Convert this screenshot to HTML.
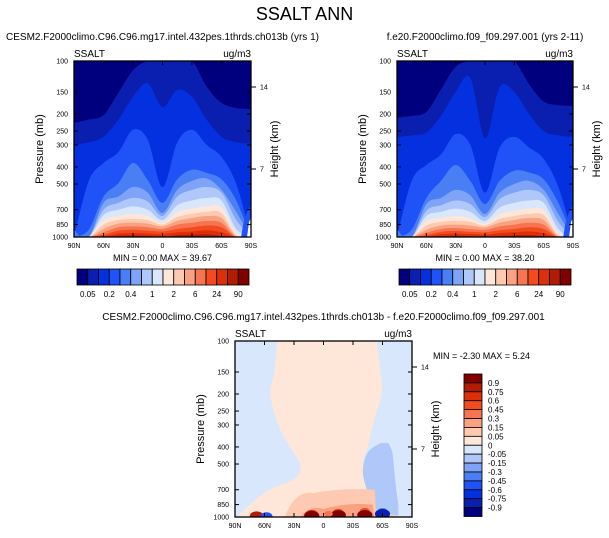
<!DOCTYPE html>
<html><head><meta charset="utf-8"><style>
html,body{margin:0;padding:0;background:#fff;width:609px;height:538px;overflow:hidden}
svg{display:block}
text{font-family:"Liberation Sans",sans-serif;fill:#000}
</style></head><body>
<svg id="fig" width="609" height="538" viewBox="0 0 609 538">
<text x="304.5" y="20" font-size="18" text-anchor="middle">SSALT ANN</text>
</svg>
<script>
// ---- data ----
const lats = [90,75,60,45,30,15,0,-15,-30,-45,-60,-75,-90];
const pTicks = [100,150,200,250,300,400,500,700,850,1000];
const latTicks = [90,60,30,0,-30,-60,-90];
const latLabels = ["90N","60N","30N","0","30S","60S","90S"];
const absLevelLabels = ["0.05","","0.2","","0.4","","1","","2","","6","","24","","90"];
const diffLevelLabels = ["0.9","0.75","0.6","0.45","0.3","0.15","0.05","0","-0.05","-0.15","-0.3","-0.45","-0.6","-0.75","-0.9"];
const heightTicks = [14,7];
const absColors = ["#00007f","#0a1fb0","#0530e0","#1f52f7","#4a7ef5","#7fa3f6","#b0c8f9","#d8e7fc","#fee7d8","#fdc9b0","#f9a282","#f67550","#f34a1f","#dc300a","#b01c04","#800000"];
const diffColors = ["#800000","#b01c04","#dc300a","#f34a1f","#f67550","#f9a282","#fdc9b0","#fee7d8","#d8e7fc","#b0c8f9","#7fa3f6","#4a7ef5","#1f52f7","#0530e0","#0a1fb0","#00007f"];
// contour boundary pressures (mb) per latitude, one array per level (panel 1)
const c1 = [
 [225,215,203,152,113,100,100,100,100,140,173,185,188],
 [300,290,270,216,160,134,183,146,160,216,270,290,295],
 [1000,480,380,330,246,280,520,290,246,300,350,500,1000],
 [1000,910,590,495,380,475,640,470,415,433,470,620,1000],
 [1000,1000,640,590,520,560,730,540,480,465,540,720,1000],
 [1000,1000,700,640,600,630,760,590,540,520,560,800,1000],
 [1000,1000,750,700,670,700,800,660,620,600,620,900,1000],
 [1000,1000,800,760,740,760,830,720,690,670,680,950,1000],
 [1000,1000,850,800,790,800,850,770,740,720,730,970,1000],
 [1000,1000,900,840,830,840,870,810,780,760,780,990,1000],
 [1000,1000,940,880,870,880,900,850,830,810,830,1000,1000],
 [1000,1000,970,920,910,920,930,900,880,860,880,1000,1000],
 [1000,1000,990,955,950,955,965,940,930,915,940,1000,1000],
 [1000,1000,1000,985,980,985,1000,975,970,965,985,1000,1000],
 [1000,1000,1000,1000,1000,1000,1000,1000,1000,995,1000,1000,1000]
];
// panel 2
const c2 = [
 [210,205,195,145,108,100,100,100,100,135,170,178,180],
 [270,265,255,205,150,125,275,140,150,200,250,265,270],
 [1000,480,390,340,260,300,560,310,270,310,360,520,1000],
 [1000,910,600,480,390,480,650,480,420,430,470,640,1000],
 [1000,1000,650,600,540,580,740,560,500,480,540,740,1000],
 [1000,1000,710,660,620,650,770,610,560,540,580,820,1000],
 [1000,1000,760,720,690,720,810,680,640,620,640,900,1000],
 [1000,1000,810,780,760,780,840,740,710,690,700,950,1000],
 [1000,1000,860,820,810,820,860,790,760,740,750,970,1000],
 [1000,1000,910,860,850,860,880,830,800,780,800,990,1000],
 [1000,1000,945,900,890,900,910,870,850,830,850,1000,1000],
 [1000,1000,975,935,925,935,940,915,900,880,900,1000,1000],
 [1000,1000,992,965,958,962,970,950,940,930,950,1000,1000],
 [1000,1000,1000,990,985,990,1000,985,980,975,990,1000,1000],
 [1000,1000,1000,1000,1000,1000,1000,1000,1000,1000,1000,1000,1000]
];
// difference panel: positive (0..0.05) region bounds per pressure
const dPres = [100,150,200,300,400,500,600,700,850,1000];
const dLeftLat = [47,50,54,46,34,24,28,55,75,88];
const dRightLat = [-54,-58,-59,-50,-45,-40,-45,-52,-54,-55];
// negative blob (-0.15..-0.05) near 60S
const nPres = [380,430,550,700,850,980];
const nLeftLat = [-58,-45,-40,-44,-48,-50];
const nRightLat = [-66,-70,-72,-74,-76,-76];
// surface blobs: latitude, pressure, colour index in diffColors
const blobLat = [12,12,-15,-15,-42,-42,-28,68,58,-60,-60,-70,30,-5];
const blobP = [960,985,940,975,930,975,900,985,990,930,962,990,930,960];
const blobLevel = [2,0,3,0,3,0,5,1,12,11,14,6,6,4];

// ---- drawing ----
const NS="http://www.w3.org/2000/svg";
const svg=document.getElementById('fig');
function mk(tag,attrs,parent){const e=document.createElementNS(NS,tag);for(const k in attrs)e.setAttribute(k,attrs[k]);(parent||svg).appendChild(e);return e;}
function txt(x,y,s,size,anchor,parent){const t=mk('text',{x:x,y:y,'font-size':size,'text-anchor':anchor||'start'},parent);t.textContent=s;return t;}
function smooth(pts){let d='M'+pts[0][0]+','+pts[0][1];for(let i=0;i<pts.length-1;i++){const p0=pts[Math.max(0,i-1)],p1=pts[i],p2=pts[i+1],p3=pts[Math.min(pts.length-1,i+2)];d+=' C'+(p1[0]+(p2[0]-p0[0])/6)+','+(p1[1]+(p2[1]-p0[1])/6)+' '+(p2[0]-(p3[0]-p1[0])/6)+','+(p2[1]-(p3[1]-p1[1])/6)+' '+p2[0]+','+p2[1];}return d;}

function axes(x0,y0,w,h,id){
  const xOf=lat=>x0+w*(90-lat)/180;
  const yOf=p=>y0+h*Math.log10(p/100);
  const g=mk('g',{'clip-path':'url(#clip'+id+')'});
  
  
  const cp=mk('clipPath',{id:'clip'+id});mk('rect',{x:x0,y:y0,width:w,height:h},cp);
  return {xOf,yOf,g,x0,y0,w,h};
}
function frame(A,title,minmax,mmx,mmy,anchor){
  const {x0,y0,w,h,xOf,yOf}=A;
  const f=mk('rect',{x:x0,y:y0,width:w,height:h,fill:'none',stroke:'#000','stroke-width':1.3});
  
  
  pTicks.forEach(p=>{const y=yOf(p);mk('line',{x1:x0,x2:x0+4,y1:y,y2:y,stroke:'#000'});mk('line',{x1:x0+w,x2:x0+w-4,y1:y,y2:y,stroke:'#000'});
    const t=txt(x0-6,y+2.5,String(p),7,'end');});
  latTicks.forEach((l,i)=>{const x=xOf(l);mk('line',{x1:x,x2:x,y1:y0+h,y2:y0+h-4,stroke:'#000'});mk('line',{x1:x,x2:x,y1:y0,y2:y0+4,stroke:'#000'});
    const t=txt(x,y0+h+11,latLabels[i],7,'middle');});
  const hy=[y0+26,y0+108];
  heightTicks.forEach((k,i)=>{mk('line',{x1:x0+w,x2:x0+w+5,y1:hy[i],y2:hy[i],stroke:'#000'});const t=txt(x0+w+9,hy[i]+2.5,String(k),7);});
  let t=txt(x0,y0-4,'SSALT',10);
  t=txt(x0+w,y0-4,'ug/m3',10,'end');
  t=mk('text',{x:0,y:0,'font-size':11,'text-anchor':'middle',transform:'translate('+(x0-31)+','+(y0+h/2)+') rotate(-90)'});t.textContent='Pressure (mb)';
  
  t=mk('text',{x:0,y:0,'font-size':11,'text-anchor':'middle',transform:'translate('+(x0+w+27)+','+(y0+h/2)+') rotate(-90)'});t.textContent='Height (km)';
  
  t=txt(x0+w/2,y0-21,title,10,'middle');
  t=txt(mmx,mmy,minmax,9,anchor);
}
function absPanel(x0,y0,w,h,id,C,title,mm,cbx){
  const A=axes(x0,y0,w,h,id);
  mk('rect',{x:x0,y:y0,width:w,height:h,fill:absColors[0]},A.g);
  C.forEach((b,k)=>{
    const pts=lats.map((l,i)=>[A.xOf(l),A.yOf(Math.min(b[i],1000)+(b[i]>=1000?3:0))]);
    const d=smooth(pts)+' L'+(x0+w)+','+(y0+h+3)+' L'+x0+','+(y0+h+3)+' Z';
    const p=mk('path',{d:d,fill:absColors[k+1]},A.g);
    
    
  });
  // near-pole surface low values
  mk('path',{d:'M'+A.xOf(-80)+','+(y0+h)+' L'+A.xOf(-82)+','+A.yOf(850)+' L'+A.xOf(-86)+','+A.yOf(720)+' L'+(x0+w)+','+A.yOf(660)+' L'+(x0+w)+','+(y0+h)+'Z',fill:'#1f52f7'},A.g);
  mk('path',{d:'M'+A.xOf(-86)+','+(y0+h)+' L'+A.xOf(-88)+','+A.yOf(820)+' L'+(x0+w)+','+A.yOf(780)+' L'+(x0+w)+','+(y0+h)+'Z',fill:'#fff'},A.g);
  mk('path',{d:'M'+x0+','+(y0+h)+' L'+x0+','+A.yOf(900)+' L'+A.xOf(84)+','+(y0+h)+'Z',fill:'#4a7ef5'},A.g);
  frame(A,title,mm,x0+w/2,y0+h+24,'middle');
  const cw=172/16,cy=y0+h+32;
  absColors.forEach((c,i)=>{const r=mk('rect',{x:cbx+i*cw,y:cy,width:cw,height:16,fill:c,stroke:'#000','stroke-width':0.8});
    });
  absLevelLabels.forEach((s,i)=>{if(!s)return;const t=txt(cbx+(i+1)*cw,cy+28,s,8,'middle');});
}
absPanel(74,61,177,176,'a',c1,'CESM2.F2000climo.C96.C96.mg17.intel.432pes.1thrds.ch013b (yrs 1)','MIN =   0.00  MAX =  39.67',77);
absPanel(397,61,176,176,'b',c2,'f.e20.F2000climo.f09_f09.297.001 (yrs 2-11)','MIN =   0.00  MAX =  38.20',399);

// difference panel
(function(){
  const x0=235,y0=341,w=177,h=176;
  const A=axes(x0,y0,w,h,'c');
  mk('rect',{x:x0,y:y0,width:w,height:h,fill:diffColors[8]},A.g);
  const L=dPres.map((p,i)=>[A.xOf(dLeftLat[i]),A.yOf(p)]);
  const R=dPres.map((p,i)=>[A.xOf(dRightLat[i]),A.yOf(p)]).reverse();
  let d='M'+A.xOf(dLeftLat[0])+','+(y0-3)+' '+smooth(L).replace('M','L')+' L'+A.xOf(dLeftLat[dLeftLat.length-1])+','+(y0+h+3)+' L'+A.xOf(dRightLat[dRightLat.length-1])+','+(y0+h+3)+' '+smooth(R).replace('M','L')+' L'+A.xOf(dRightLat[0])+','+(y0-3)+' Z';
  let p=mk('path',{d:d,fill:diffColors[7]},A.g);
  
  const NL=nPres.map((q,i)=>[A.xOf(nLeftLat[i]),A.yOf(q)]);
  const NR=nPres.map((q,i)=>[A.xOf(nRightLat[i]),A.yOf(q)]).reverse();
  p=mk('path',{d:smooth(NL)+' '+smooth(NR).replace('M','L')+' Z',fill:diffColors[9]},A.g);
  
  // lower positive band
  p=mk('path',{d:'M'+A.xOf(40)+','+(y0+h+2)+' Q'+A.xOf(30)+','+A.yOf(700)+' '+A.xOf(10)+','+A.yOf(730)+' Q'+A.xOf(-20)+','+A.yOf(680)+' '+A.xOf(-52)+','+A.yOf(700)+' L'+A.xOf(-54)+','+(y0+h+2)+'Z',fill:diffColors[6]},A.g);
  
  p=mk('path',{d:'M'+A.xOf(25)+','+(y0+h+2)+' Q'+A.xOf(15)+','+A.yOf(850)+' '+A.xOf(0)+','+A.yOf(900)+' Q'+A.xOf(-25)+','+A.yOf(820)+' '+A.xOf(-50)+','+A.yOf(850)+' L'+A.xOf(-52)+','+(y0+h+2)+'Z',fill:diffColors[5]},A.g);
  
  blobLat.forEach((l,i)=>{
    const lv=blobLevel[i];const s=lv<7?(7-lv):(lv-7);
    const e=mk('ellipse',{cx:A.xOf(l),cy:A.yOf(blobP[i]),rx:2+s*0.8,ry:1.5+s*0.5,fill:diffColors[lv]},A.g);
    
  });
  frame(A,'CESM2.F2000climo.C96.C96.mg17.intel.432pes.1thrds.ch013b - f.e20.F2000climo.f09_f09.297.001','MIN =  -2.30  MAX =   5.24',433,359,'start');
  const cx=464,cy=374,ch=142.5/16;
  diffColors.forEach((c,i)=>{const r=mk('rect',{x:cx,y:cy+i*ch,width:18,height:ch,fill:c,stroke:'#000','stroke-width':0.8});
    });
  diffLevelLabels.forEach((s,i)=>{const t=txt(cx+24,cy+(i+1)*ch+3,s,8);});
})();
</script>
</body></html>
